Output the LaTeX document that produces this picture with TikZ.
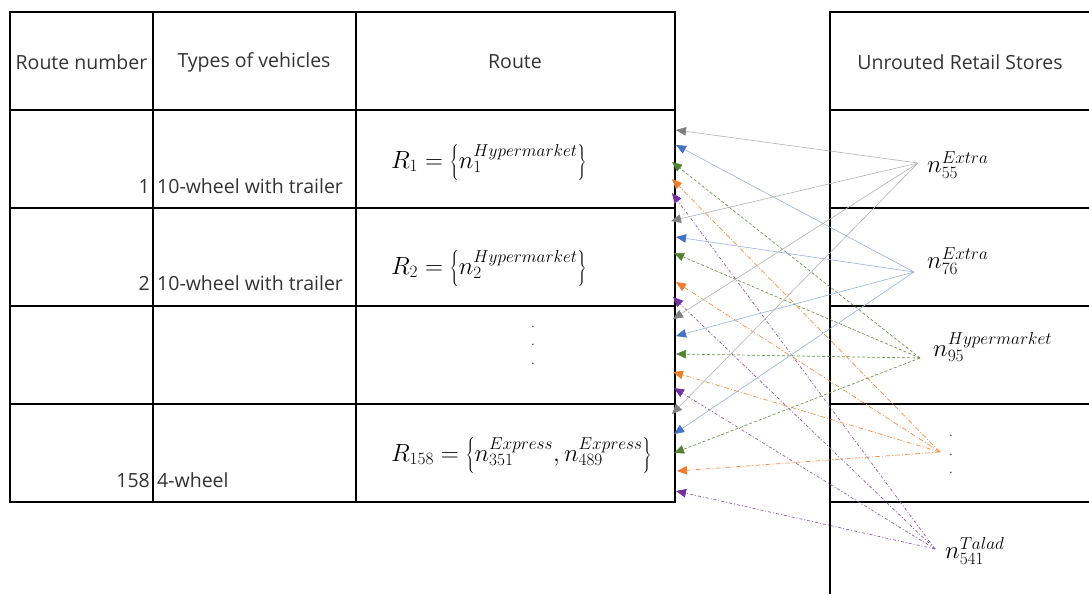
\documentclass[tikz,border=0pt]{standalone}
\usepackage{fontspec}
\setsansfont{Open Sans}
\usetikzlibrary{arrows.meta}
\definecolor{cgray}{HTML}{7F7F7F}
\definecolor{cblue}{HTML}{4472C4}
\definecolor{cgreen}{HTML}{548235}
\definecolor{corange}{HTML}{ED7D31}
\definecolor{cpurple}{HTML}{7030A0}
\begin{document}
\begin{tikzpicture}[x=1pt,y=-1pt,
  tbl/.style={line width=1.6pt,black},
  txt/.style={font=\sffamily\fontsize{19.5}{21}\selectfont,text=black!80,inner sep=0pt},
  mth/.style={font=\fontsize{23.5}{25}\selectfont,inner sep=0pt},
  dotn/.style={font=\fontsize{14}{14}\selectfont,inner sep=0pt},
  tipc/.style={-{Triangle[length=10pt,width=8.5pt,color=#1]}},
  ga/.style={draw=cgray!60,line width=0.6pt,tipc=cgray},
  bl/.style={draw=cblue!55,line width=0.6pt,tipc=cblue},
  gr/.style={draw=cgreen!85,line width=0.7pt,dash pattern=on 3pt off 2pt,tipc=cgreen},
  orr/.style={draw=corange!85,line width=0.7pt,dash pattern=on 5pt off 2pt on 1pt off 2pt,tipc=corange},
  pu/.style={draw=cpurple!80,line width=0.7pt,dash pattern=on 3pt off 2pt on 1pt off 2pt,tipc=cpurple}
]
\useasboundingbox (0,0) rectangle (1089,594);
% left table
\draw[tbl] (10,12) rectangle (675,502);
\foreach \xx in {153,356} \draw[tbl] (\xx,12) -- (\xx,502);
\foreach \yy in {110,208,306,404} \draw[tbl] (10,\yy) -- (675,\yy);
% right table
\draw[tbl] (1089,12) -- (830,12) -- (830,594);
\foreach \yy in {110,208,306,404,502} \draw[tbl] (830,\yy) -- (1089,\yy);
% headers
\node[txt] (h1) at (81.5,62) {Route number};
\node[txt] (h2) at (254,62) {Types of vehicles};
\node[txt] (h3) at (515,62) {Route};
\node[txt] (h4) at (960,62) {Unrouted Retail Stores};
% rows
\node[txt,anchor=base east] (n1) at (150,193) {1};
\node[txt,anchor=base west] (v1) at (157,193) {10-wheel with trailer};
\node[txt,anchor=base east] (n2) at (150,290) {2};
\node[txt,anchor=base west] (v2) at (157,290) {10-wheel with trailer};
\node[txt,anchor=base east] (n4) at (150,487) {158};
\node[txt,anchor=base west] (v4) at (157,487) {4-wheel};
% routes
\node[mth,anchor=west] (r1) at (391,162) {$R_1=\left\{n_1^{Hypermarket}\right\}$};
\node[mth,anchor=west] (r2) at (391,268) {$R_2=\left\{n_2^{Hypermarket}\right\}$};
\node[dotn] (d1) at (533,327) {.};
\node[dotn] (d2) at (533,345) {.};
\node[dotn] (d3) at (533,364) {.};
\node[mth,anchor=west] (r4) at (391,455) {$R_{158}=\left\{n_{351}^{Express},n_{489}^{Express}\right\}$};
% unrouted stores
\node[mth,anchor=west] (u55) at (927,165) {$n_{55}^{Extra}$};
\node[mth,anchor=west] (u76) at (927,261) {$n_{76}^{Extra}$};
\node[mth,anchor=west] (u95) at (933,347) {$n_{95}^{Hypermarket}$};
\node[dotn] (e1) at (951,436) {.};
\node[dotn] (e2) at (951,455) {.};
\node[dotn] (e3) at (951,473) {.};
\node[mth,anchor=west] (u541) at (945,551) {$n_{541}^{Talad}$};
% source points
\coordinate (s55) at (918,163);
\coordinate (s76) at (914,272);
\coordinate (s95) at (920,358);
\coordinate (sdt) at (940,452);
\coordinate (s541) at (935,549);
% target points
\coordinate (ta1) at (676,130); \coordinate (tb1) at (676,145); \coordinate (tc1) at (672,162); \coordinate (td1) at (672,179); \coordinate (te1) at (672,193);
\coordinate (ta2) at (671,221); \coordinate (tb2) at (676,237); \coordinate (tc2) at (674,253); \coordinate (td2) at (676,282); \coordinate (te2) at (673,297);
\coordinate (ta3) at (673,319); \coordinate (tb3) at (676,336); \coordinate (tc3) at (676,354); \coordinate (td3) at (673,372); \coordinate (te3) at (674,388);
\coordinate (ta4) at (672,414); \coordinate (tb4) at (674,434); \coordinate (tc4) at (674,453); \coordinate (td4) at (677,471); \coordinate (te4) at (676,491);
% connectors
\foreach \i in {1,2,3,4} {
  \draw[ga] (s55) -- (ta\i);
  \draw[bl] (s76) -- (tb\i);
  \draw[gr] (s95) -- (tc\i);
  \draw[orr] (sdt) -- (td\i);
  \draw[pu] (s541) -- (te\i);
}
\end{tikzpicture}
\end{document}
